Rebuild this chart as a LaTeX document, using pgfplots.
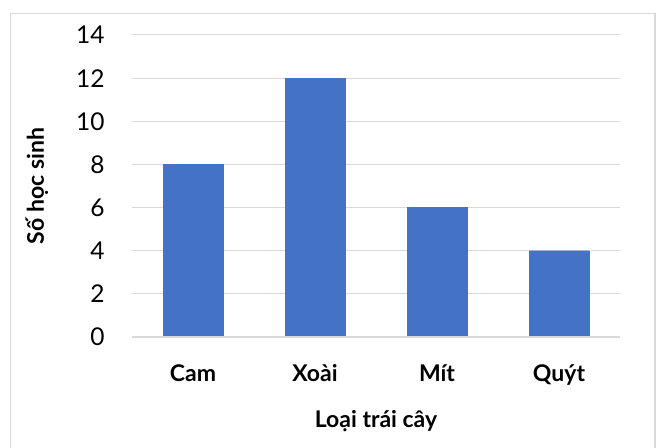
\documentclass[border=0pt]{standalone}
\usepackage{pgfplots}
\pgfplotsset{compat=1.18}
\usepackage{fontspec}
\setmainfont{Lato}
\definecolor{barblue}{HTML}{4472C4}
\definecolor{gridgray}{HTML}{D9D9D9}
\begin{document}
\begin{tikzpicture}
\path[use as bounding box] (0pt,0pt) rectangle (660pt,447pt);
\begin{scope}
\clip (0pt,0pt) rectangle (660pt,447pt);
\draw[gridgray, line width=1.2pt] (10.5pt,-5pt) rectangle (655pt,433.5pt);
\end{scope}
\begin{axis}[
  at={(132pt,110pt)}, anchor=south west,
  scale only axis, width=488pt, height=302pt,
  ymin=0, ymax=14, xmin=-0.5, xmax=3.5,
  ytick={0,2,...,14},
  xtick=data,
  xticklabels={Cam,Xoài,Mít,Quýt},
  axis line style={draw=none},
  ymajorgrids, grid style={gridgray, line width=1pt},
  major tick length=0pt,
  tick style={draw=none},
  /pgf/number format/assume math mode=true,
  yticklabel style={font=\fontsize{24.5}{27}\selectfont, xshift=-24pt, text=black},
  xticklabel style={font=\bfseries\fontsize{23}{26}\selectfont, yshift=-24pt},
  xlabel={Loại trái cây},
  ylabel={Số học sinh},
  xlabel style={font=\bfseries\fontsize{23}{26}\selectfont, at={(axis description cs:0.5,-0.28)}, anchor=center},
  ylabel style={font=\bfseries\fontsize{23}{26}\selectfont, at={(axis description cs:-0.195,0.5)}, anchor=center},
  clip=false,
]
\addplot[ybar, bar width=60pt, fill=barblue, draw=barblue] coordinates {(0,8) (1,12) (2,6) (3,4)};
\draw[gridgray, line width=1.5pt] (axis cs:-0.5,0) -- (axis cs:3.5,0);
\end{axis}
\end{tikzpicture}
\end{document}
